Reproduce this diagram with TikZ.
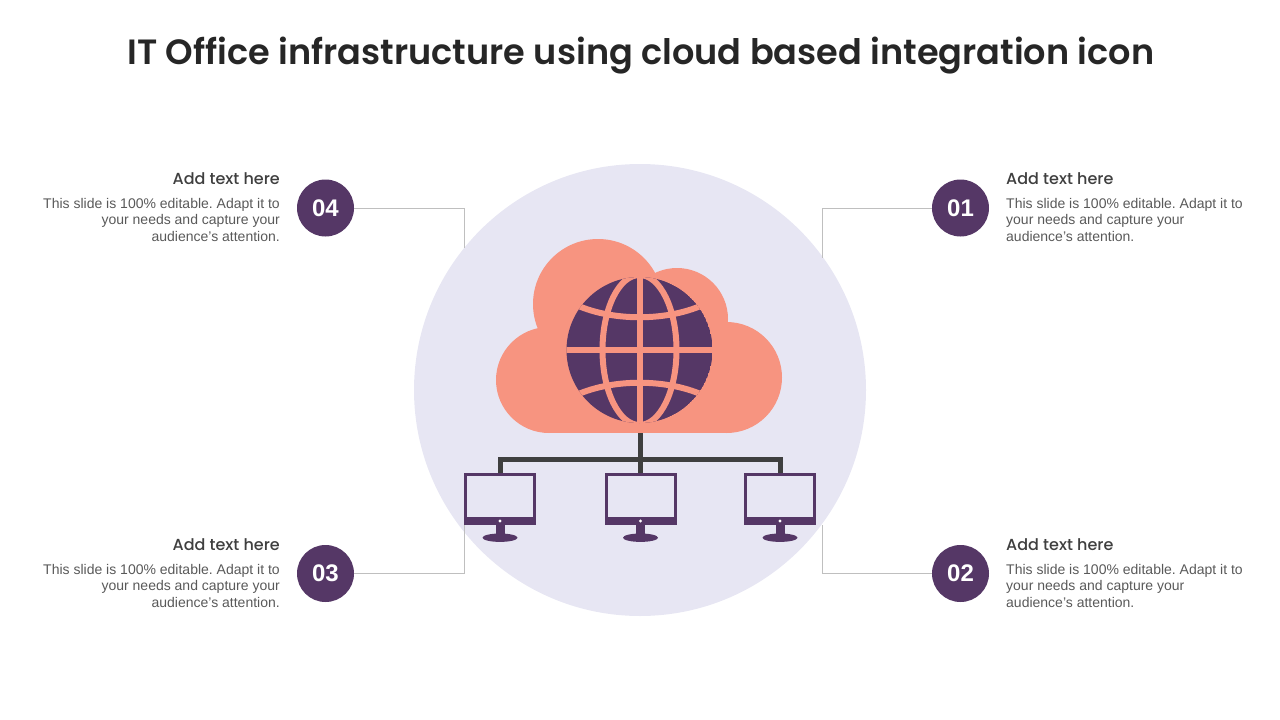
\documentclass[tikz,border=0pt]{standalone}
\usepackage{fontspec}
\setmainfont{Liberation Sans}
\newfontfamily\headfont{Poppins Medium}
\newfontfamily\titlefont{Poppins SemiBold}
\usetikzlibrary{arrows.meta, positioning}
\definecolor{plum}{HTML}{553766}
\definecolor{salmon}{HTML}{F79480}
\definecolor{lavender}{HTML}{E7E6F3}
\definecolor{treegray}{HTML}{3F3F3F}
\definecolor{wiregray}{HTML}{BFBFBF}

% one monitor: name, centre x
\newcommand{\monitor}[2]{
    \node[screen] (#1) at (#2,496.5) {};
    \fill[plum] (#2-36,517) rectangle (#2+36,524.5);
    \fill[white] (#2,521) circle (1.6);
    \fill[plum] (#2-4.5,524) rectangle (#2+4.5,536);
    \fill[plum] (#2,537.7) ellipse (17.5 and 4.2);
}

\begin{document}
\frenchspacing
\begin{tikzpicture}[
    x=1pt, y=-1pt,
    badge/.style={
        circle, fill=plum, text=white, minimum size=57pt, inner sep=0pt,
        font=\fontsize{24}{24}\selectfont\bfseries
    },
    screen/.style={
        draw=plum, fill=lavender, line width=3pt, rectangle,
        minimum width=69pt, minimum height=44pt, inner sep=0pt
    },
    headlbl/.style={
        font=\fontsize{16}{18}\selectfont\headfont,
        text=treegray, inner sep=0pt
    },
    bodylbl/.style={
        font=\fontsize{14}{16.5}\selectfont,
        text=black!65, inner sep=0pt
    },
    wire/.style={draw=wiregray, line width=0.8pt},
    tree/.style={draw=treegray, line width=5pt},
    grid/.style={draw=salmon, line width=6pt}
]
\useasboundingbox (0,0) rectangle (1280,720);

\node[font=\fontsize{35.1}{40}\selectfont\titlefont, text=black!85] (title) at (641,56)
    {IT Office infrastructure using cloud based integration icon};

\fill[lavender] (640,390) circle (226);

% cloud
\fill[salmon] (549,380) circle (53);
\fill[salmon] (598,304) circle (65);
\fill[salmon] (677,319) circle (51);
\fill[salmon] (726.5,377.5) circle (55.5);
\fill[salmon] (549,433) rectangle (726,340);

% globe
\begin{scope}
    \clip (639.5,350) circle (73);
    \fill[plum] (639.5,350) circle (73);
    \draw[grid] (639.5,270) -- (639.5,430);
    \draw[grid] (560,349.5) -- (720,349.5);
    \draw[grid] (639.5,350) ellipse (37 and 75);
    \draw[grid] (572,303) .. controls (610,322) and (669,322) .. (707,303);
    \draw[grid] (572,397) .. controls (610,378) and (669,378) .. (707,397);
\end{scope}

\coordinate (cloudbase) at (640.5,433);
\coordinate (treejoin) at (640.5,459);

\monitor{screenl}{500}
\monitor{screenc}{640.5}
\monitor{screenr}{780}

\draw[tree] (cloudbase) -- (screenc.north);
\draw[tree] (screenl.north) |- (treejoin) -| (screenr.north);

% badges and their wires
\node[badge] (b04) at (325.5,208) {04};
\node[badge] (b03) at (325.5,573.5) {03};
\node[badge] (b01) at (960.5,208) {01};
\node[badge] (b02) at (960.5,573.5) {02};

\coordinate (end04) at (464.5,248);
\coordinate (end03) at (464.5,525);
\coordinate (end01) at (822.5,258);
\coordinate (end02) at (822.5,525);

\draw[wire] (b04.east) -| (end04);
\draw[wire] (b03.east) -| (end03);
\draw[wire] (b01.west) -| (end01);
\draw[wire] (b02.west) -| (end02);

% text blocks
\node[headlbl, anchor=base east] (h04) at (280,184) {Add text here};
\node[bodylbl, align=right, below=13.5pt of h04.south east, anchor=north east] (t04)
    {This slide is 100\% editable. Adapt it to\\your needs and capture your\\audience's attention.};

\node[headlbl, anchor=base east] (h03) at (280,550) {Add text here};
\node[bodylbl, align=right, below=13.5pt of h03.south east, anchor=north east] (t03)
    {This slide is 100\% editable. Adapt it to\\your needs and capture your\\audience's attention.};

\node[headlbl, anchor=base west] (h01) at (1006,184) {Add text here};
\node[bodylbl, align=left, below=13.5pt of h01.south west, anchor=north west] (t01)
    {This slide is 100\% editable. Adapt it to\\your needs and capture your\\audience's attention.};

\node[headlbl, anchor=base west] (h02) at (1006,550) {Add text here};
\node[bodylbl, align=left, below=13.5pt of h02.south west, anchor=north west] (t02)
    {This slide is 100\% editable. Adapt it to\\your needs and capture your\\audience's attention.};

\end{tikzpicture}
\end{document}
